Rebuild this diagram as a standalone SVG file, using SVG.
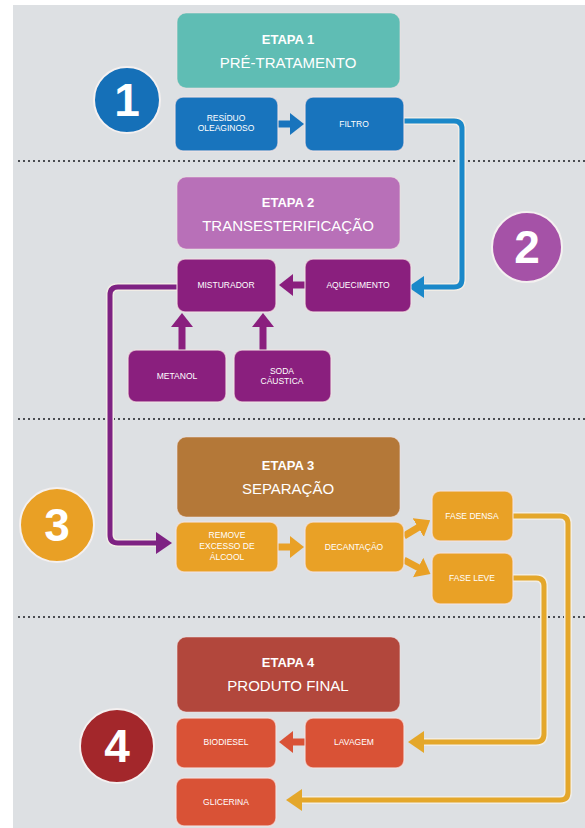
<svg xmlns="http://www.w3.org/2000/svg" width="585" height="828" viewBox="0 0 585 828">
<defs>
<style>
.bg{fill:#dde0e3}
.dot{stroke:#4a4d52;stroke-width:2.2;stroke-dasharray:2 3;fill:none}
.box{stroke:#f3e4e4;stroke-opacity:0.7;stroke-width:1.5}
.hdr{stroke:#f3e4e4;stroke-opacity:0.5;stroke-width:1.2}
.t1{font-family:"Liberation Sans",Arial,sans-serif;font-weight:bold;font-size:13px;fill:#fff;text-anchor:middle}
.t2{font-family:"Liberation Sans",Arial,sans-serif;font-size:15px;fill:#fff;text-anchor:middle}
.lb{font-family:"Liberation Sans",Arial,sans-serif;font-size:8.5px;fill:#fff;text-anchor:middle}
.num{font-family:"Liberation Sans",Arial,sans-serif;font-weight:bold;font-size:46px;fill:#fff;text-anchor:middle}
.ring{stroke:#f4f0f0;stroke-width:2}
.edge-o{fill:none;stroke:#f1ede6;stroke-width:8;stroke-linejoin:round}
.b{fill:#1874bd}.p{fill:#8a1f7e}.o{fill:#e9a126}.r{fill:#d95236}
</style>
<marker id="mBlue" markerUnits="userSpaceOnUse" viewBox="0 0 16 22" refX="2" refY="11" markerWidth="16" markerHeight="22" orient="auto"><path d="M0,0 L16,11 L0,22 Z" fill="#1a88c9"/></marker>
<marker id="mPur" markerUnits="userSpaceOnUse" viewBox="0 0 16 22" refX="2" refY="11" markerWidth="16" markerHeight="22" orient="auto"><path d="M0,0 L16,11 L0,22 Z" fill="#7e2283"/></marker>
<marker id="mOr" markerUnits="userSpaceOnUse" viewBox="0 0 16 22" refX="2" refY="11" markerWidth="16" markerHeight="22" orient="auto"><path d="M0,0 L16,11 L0,22 Z" fill="#e4a72a"/></marker>
<marker id="mBlueS" markerUnits="userSpaceOnUse" viewBox="0 0 14 22" refX="1" refY="11" markerWidth="14" markerHeight="22" orient="auto"><path d="M0,0 L14,11 L0,22 Z" fill="#1874bd"/></marker>
<marker id="mPurS" markerUnits="userSpaceOnUse" viewBox="0 0 14 22" refX="1" refY="11" markerWidth="14" markerHeight="22" orient="auto"><path d="M0,0 L14,11 L0,22 Z" fill="#8a1f7e"/></marker>
<marker id="mOrS" markerUnits="userSpaceOnUse" viewBox="0 0 14 22" refX="1" refY="11" markerWidth="14" markerHeight="22" orient="auto"><path d="M0,0 L14,11 L0,22 Z" fill="#e9a126"/></marker>
<marker id="mRedS" markerUnits="userSpaceOnUse" viewBox="0 0 14 22" refX="1" refY="11" markerWidth="14" markerHeight="22" orient="auto"><path d="M0,0 L14,11 L0,22 Z" fill="#d95236"/></marker>
</defs>

<rect x="0" y="0" width="585" height="828" fill="#ffffff"/>
<rect class="bg" x="13" y="5" width="572" height="823"/>

<g id="dividers">
<line class="dot" x1="18" y1="161" x2="585" y2="161"/>
<line class="dot" x1="18" y1="419" x2="585" y2="419"/>
<line class="dot" x1="18" y1="617" x2="585" y2="617"/>
</g>

<g id="connectors">
<path class="edge-o" d="M404,121 H454 Q462,121 462,129 V279 Q462,287 454,287 H422"/>
<path d="M404,121 H454 Q462,121 462,129 V279 Q462,287 454,287 H422" fill="none" stroke="#1a88c9" stroke-width="5" marker-end="url(#mBlue)"/>
<path class="edge-o" d="M177,287 H118 Q110,287 110,295 V535 Q110,543 118,543 H158"/>
<path d="M177,287 H118 Q110,287 110,295 V535 Q110,543 118,543 H158" fill="none" stroke="#7e2283" stroke-width="5" marker-end="url(#mPur)"/>
<path class="edge-o" d="M513,516 H560 Q568,516 568,524 V792 Q568,800 560,800 H300"/>
<path d="M513,516 H560 Q568,516 568,524 V792 Q568,800 560,800 H300" fill="none" stroke="#e4a72a" stroke-width="5" marker-end="url(#mOr)"/>
<path class="edge-o" d="M513,578 H536 Q544,578 544,586 V734 Q544,742 536,742 H422"/>
<path d="M513,578 H536 Q544,578 544,586 V734 Q544,742 536,742 H422" fill="none" stroke="#e4a72a" stroke-width="5" marker-end="url(#mOr)"/>
<line x1="278" y1="124" x2="291" y2="124" stroke="#1874bd" stroke-width="7" marker-end="url(#mBlueS)"/>
<line x1="305" y1="285" x2="292" y2="285" stroke="#8a1f7e" stroke-width="7" marker-end="url(#mPurS)"/>
<line x1="182" y1="350" x2="182" y2="326" stroke="#8a1f7e" stroke-width="7" marker-end="url(#mPurS)"/>
<line x1="263" y1="350" x2="263" y2="326" stroke="#8a1f7e" stroke-width="7" marker-end="url(#mPurS)"/>
<line x1="278" y1="547" x2="291" y2="547" stroke="#e9a126" stroke-width="7" marker-end="url(#mOrS)"/>
<line x1="404" y1="536" x2="419" y2="527" stroke="#e9a126" stroke-width="7" marker-end="url(#mOrS)"/>
<line x1="404" y1="560" x2="419" y2="568" stroke="#e9a126" stroke-width="7" marker-end="url(#mOrS)"/>
<line x1="305" y1="742" x2="292" y2="742" stroke="#d95236" stroke-width="7" marker-end="url(#mRedS)"/>
</g>

<g id="etapa1">
<rect class="hdr" x="177" y="13" width="223" height="75" rx="9" fill="#5fbdb4"/>
<text class="t1" x="288" y="44">ETAPA 1</text>
<text class="t2" x="288" y="68">PRÉ-TRATAMENTO</text>
</g>
<g id="circle1"><circle class="ring" cx="127" cy="100" r="33" fill="#1570b8"/><text class="num" x="127" y="116">1</text></g>
<g id="residuo"><rect class="box b" x="175" y="97" width="103" height="54" rx="8"/><text class="lb" x="226" y="121">RESÍDUO</text><text class="lb" x="226" y="131">OLEAGINOSO</text></g>
<g id="filtro"><rect class="box b" x="305" y="97" width="99" height="54" rx="8"/><text class="lb" x="354" y="127">FILTRO</text></g>

<g id="etapa2">
<rect class="hdr" x="177" y="177" width="223" height="72" rx="9" fill="#b870b8"/>
<text class="t1" x="288" y="207">ETAPA 2</text>
<text class="t2" x="288" y="231">TRANSESTERIFICAÇÃO</text>
</g>
<g id="circle2"><circle class="ring" cx="527" cy="247" r="35" fill="#a552a7"/><text class="num" x="527" y="263">2</text></g>
<g id="misturador"><rect class="box p" x="177" y="259" width="99" height="53" rx="8"/><text class="lb" x="226" y="288">MISTURADOR</text></g>
<g id="aquecimento"><rect class="box p" x="305" y="259" width="106" height="53" rx="8"/><text class="lb" x="358" y="288">AQUECIMENTO</text></g>
<g id="metanol"><rect class="box p" x="128" y="350" width="98" height="52" rx="8"/><text class="lb" x="177" y="379">METANOL</text></g>
<g id="soda"><rect class="box p" x="234" y="350" width="97" height="52" rx="8"/><text class="lb" x="282" y="374">SODA</text><text class="lb" x="282" y="384">CÁUSTICA</text></g>

<g id="etapa3">
<rect class="hdr" x="177" y="437" width="223" height="80" rx="9" fill="#b47838"/>
<text class="t1" x="288" y="470">ETAPA 3</text>
<text class="t2" x="288" y="494">SEPARAÇÃO</text>
</g>
<g id="circle3"><circle class="ring" cx="57" cy="525" r="37" fill="#e9a025"/><text class="num" x="57" y="541">3</text></g>
<g id="remove"><rect class="box o" x="176" y="522" width="102" height="50" rx="8"/><text class="lb" x="227" y="538">REMOVE</text><text class="lb" x="227" y="549">EXCESSO DE</text><text class="lb" x="227" y="560">ÁLCOOL</text></g>
<g id="decantacao"><rect class="box o" x="305" y="522" width="99" height="50" rx="8"/><text class="lb" x="354" y="550">DECANTAÇÃO</text></g>
<g id="fasedensa"><rect class="box o" x="432" y="491" width="81" height="50" rx="8"/><text class="lb" x="472" y="519">FASE DENSA</text></g>
<g id="faseleve"><rect class="box o" x="432" y="553" width="81" height="51" rx="8"/><text class="lb" x="472" y="581">FASE LEVE</text></g>

<g id="etapa4">
<rect class="hdr" x="177" y="637" width="223" height="75" rx="9" fill="#b2473c"/>
<text class="t1" x="288" y="667">ETAPA 4</text>
<text class="t2" x="288" y="691">PRODUTO FINAL</text>
</g>
<g id="circle4"><circle class="ring" cx="117" cy="746" r="37" fill="#a3272b"/><text class="num" x="117" y="762">4</text></g>
<g id="biodiesel"><rect class="box r" x="176" y="718" width="100" height="50" rx="8"/><text class="lb" x="226" y="745">BIODIESEL</text></g>
<g id="lavagem"><rect class="box r" x="305" y="718" width="99" height="50" rx="8"/><text class="lb" x="354" y="745">LAVAGEM</text></g>
<g id="glicerina"><rect class="box r" x="176" y="778" width="100" height="48" rx="8"/><text class="lb" x="226" y="805">GLICERINA</text></g>
</svg>
